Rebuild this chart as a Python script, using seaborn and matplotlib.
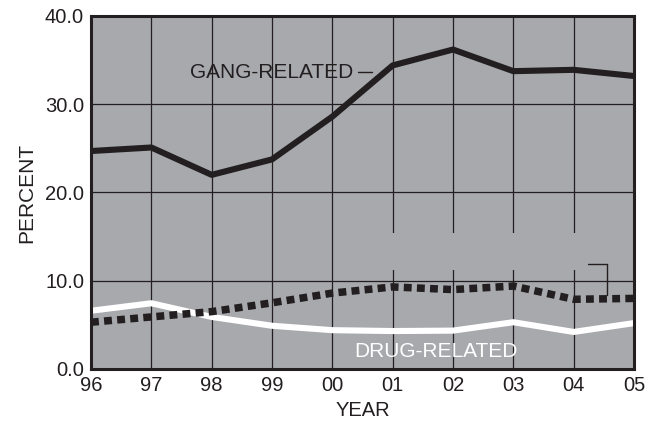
import matplotlib
matplotlib.use("Agg")
import matplotlib.pyplot as plt
import seaborn as sns
import pandas as pd
from matplotlib.patches import Rectangle

years = ["96", "97", "98", "99", "00", "01", "02", "03", "04", "05"]
gang = [24.7, 25.1, 22.0, 23.75, 28.6, 34.4, 36.2, 33.75, 33.9, 33.2]
other = [5.3, 5.9, 6.5, 7.5, 8.6, 9.3, 9.0, 9.4, 7.9, 8.0]
drug = [6.6, 7.45, 5.9, 4.9, 4.4, 4.3, 4.35, 5.3, 4.2, 5.2]
yticks = [0, 10, 20, 30, 40]
ytick_labels = ["0.0", "10.0", "20.0", "30.0", "40.0"]

sns.set_theme(style="white")
plt.rcParams['font.family'] = ['Liberation Sans', 'DejaVu Sans']

df = pd.DataFrame({"x": range(len(years)), "gang": gang, "other": other, "drug": drug})

fig = plt.figure(figsize=(6.45, 4.22), dpi=100)
ax = fig.add_axes([91 / 645, 1 - 369 / 422, (634 - 91) / 645, (369 - 16) / 422])
bg = "#a7a9ac"
ink = "#231f20"
ax.set_facecolor(bg)

sns.lineplot(data=df, x="x", y="gang", ax=ax, color=ink, linewidth=4.4, zorder=4)
sns.lineplot(data=df, x="x", y="other", ax=ax, color=ink, linewidth=5.4,
             linestyle=(0, (1.05, 0.7)), dash_capstyle="butt", zorder=4)
sns.lineplot(data=df, x="x", y="drug", ax=ax, color="white", linewidth=4.4, zorder=3)

ax.set_xlim(0, len(years) - 1)
ax.set_ylim(0, 40)
ax.set_xticks(range(len(years)))
ax.set_xticklabels(years)
ax.set_yticks(yticks)
ax.set_yticklabels(ytick_labels)
ax.grid(True, color=ink, linewidth=0.9, zorder=1)
ax.set_axisbelow(True)
ax.tick_params(axis="both", length=0, labelsize=14.5, colors=ink)
ax.tick_params(axis="y", pad=5)
ax.tick_params(axis="x", pad=5)
ax.set_xlabel("YEAR", fontsize=14.5, color=ink, labelpad=4)
ax.set_ylabel("PERCENT", fontsize=15, color=ink, labelpad=6)
for s in ax.spines.values():
    s.set_color(ink)
    s.set_linewidth(2.2)
    s.set_visible(True)
    s.set_zorder(6)

# blanked label area
ax.add_patch(Rectangle((4.87, 11.25), 3.57, 4.2, facecolor=bg, edgecolor="none", zorder=2))
ax.plot([8.24, 8.55, 8.55], [11.9, 11.9, 8.4], color=ink, linewidth=1.0, zorder=5)

ax.text(3.0, 33.6, "GANG-RELATED", fontsize=15, color=ink, ha="center", va="center", zorder=5)
ax.plot([4.42, 4.66], [33.6, 33.6], color=ink, linewidth=1.0, zorder=5)
ax.text(5.72, 2.0, "DRUG-RELATED", fontsize=15, color="white", ha="center", va="center", zorder=5)

fig.savefig("out.png", dpi=100)
